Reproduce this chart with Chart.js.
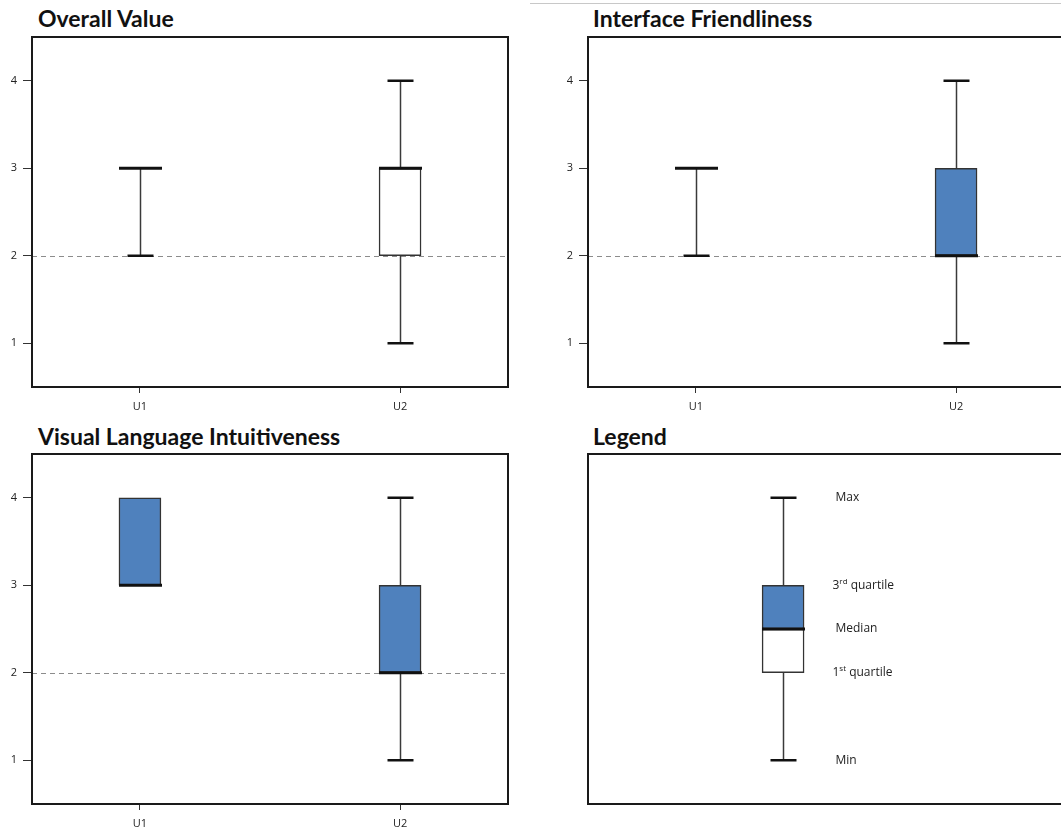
<!DOCTYPE html>
<html>
<head>
<meta charset="utf-8">
<script src="https://cdn.jsdelivr.net/npm/chart.js@4"></script>
<style>
  html, body { margin: 0; padding: 0; background: #fff; }
  body { position: relative; width: 1061px; height: 834px; overflow: hidden; }
  canvas { position: absolute; }
  .title {
    position: absolute; font-family: Lato, sans-serif; font-weight: 700;
    font-size: 23px; line-height: 23px; color: #111; white-space: nowrap;
  }
  .rule { position: absolute; left: 530px; top: 3px; width: 531px; height: 1px; background: #c8c8c8; }
</style>
</head>
<body>
<div class="rule"></div>

<div class="title" style="left:38px;top:7px">Overall Value</div>
<div class="title" style="left:593px;top:7px">Interface Friendliness</div>
<div class="title" style="left:38px;top:425px">Visual Language Intuitiveness</div>
<div class="title" style="left:593px;top:425px">Legend</div>

<canvas id="overallChart" width="556" height="417" style="left:0;top:0"></canvas>
<canvas id="interfaceChart" width="556" height="417" style="left:556px;top:0"></canvas>
<canvas id="visualChart" width="556" height="417" style="left:0;top:417px"></canvas>
<canvas id="legendChart" width="556" height="417" style="left:556px;top:417px"></canvas>

<script>
const categories = ['U1', 'U2'];
const yTicks = [1, 2, 3, 4];

// one row per user: [min, q1, median, q3, max]
const overallValue = [[2, 3, 3, 3, 3], [1, 2, 3, 3, 4]];
const interfaceFriendliness = [[2, 3, 3, 3, 3], [1, 2, 2, 3, 4]];
const visualLanguage = [[3, 3, 3, 4, 4], [1, 2, 2, 3, 4]];

// sample box for the key panel, same order as above
const legendSample = [1, 2, 2.5, 3, 4];
const legendLabels = ['Min', '1st quartile', 'Median', '3rd quartile', 'Max'];

const referenceLevel = 2;

const BLUE = '#4f81bd';
const INK = '#222';
const TICK_FONT = { family: 'Open Sans', size: 11 };

function boxExtras(stats, refLine, labels) {
    return {
        id: 'boxExtras',
        beforeDatasetsDraw(chart) {
            if (refLine == null) return;
            const { ctx, chartArea: a, scales: { y } } = chart;
            const py = Math.round(y.getPixelForValue(refLine)) + 0.5;
            ctx.save();
            ctx.strokeStyle = '#8c8c8c';
            ctx.lineWidth = 1;
            ctx.setLineDash([5, 4]);
            ctx.beginPath();
            ctx.moveTo(a.left, py);
            ctx.lineTo(a.right, py);
            ctx.stroke();
            ctx.restore();
        },
        afterDatasetsDraw(chart) {
            const { ctx, scales: { x, y } } = chart;
            stats.forEach(([min, q1, med, q3, max], i) => {
                const px = Math.round(x.getPixelForValue(i + 1)) + 0.5;
                const hLine = (v, w) => {
                    const py = y.getPixelForValue(v);
                    ctx.beginPath();
                    ctx.moveTo(px - w / 2, py);
                    ctx.lineTo(px + w / 2, py);
                    ctx.stroke();
                };
                const vLine = (a, b) => {
                    if (a === b) return;
                    ctx.beginPath();
                    ctx.moveTo(px, y.getPixelForValue(a));
                    ctx.lineTo(px, y.getPixelForValue(b));
                    ctx.stroke();
                };
                ctx.save();
                ctx.strokeStyle = '#3a3a3a';
                ctx.lineWidth = 1.5;
                vLine(min, q1);
                vLine(q3, max);
                ctx.strokeStyle = '#111';
                ctx.lineWidth = 2.5;
                if (min < q1) hLine(min, 26);
                if (max > q3) hLine(max, 26);
                ctx.lineWidth = 3;
                hLine(med, 43);
                ctx.restore();

                if (labels) {
                    ctx.save();
                    ctx.fillStyle = INK;
                    ctx.textBaseline = 'middle';
                    [min, q1, med, q3, max].forEach((v, k) => {
                        const py = y.getPixelForValue(v);
                        let tx = px + 49;
                        const m = labels[k].match(/^(\d)(st|nd|rd|th)(.*)$/);
                        ctx.font = '12px "Open Sans"';
                        if (!m) {
                            ctx.fillText(labels[k], tx + 3, py);
                            return;
                        }
                        ctx.fillText(m[1], tx, py);
                        tx += ctx.measureText(m[1]).width;
                        ctx.font = '8px "Open Sans"';
                        ctx.fillText(m[2], tx, py - 4);
                        tx += ctx.measureText(m[2]).width;
                        ctx.font = '12px "Open Sans"';
                        ctx.fillText(m[3], tx, py);
                    });
                    ctx.restore();
                }
            });
        },
        afterDraw(chart) {
            const { ctx, chartArea: a } = chart;
            ctx.save();
            ctx.strokeStyle = '#1a1a1a';
            ctx.lineWidth = 2;
            ctx.strokeRect(a.left, a.top, a.right - a.left, a.bottom - a.top);
            ctx.restore();
        }
    };
}

function renderBoxChart(canvasId, stats, { xMin = 0.585, xMax = 2.415, showAxes = true, refLine = referenceLevel, labels = null } = {}) {
    const canvas = document.getElementById(canvasId);
    if (!canvas) return;

    const lower = stats.map((s, i) => s[1] < s[2] ? { x: i + 1, y: [s[1], s[2]] } : null).filter(Boolean);
    const upper = stats.map((s, i) => s[2] < s[3] ? { x: i + 1, y: [s[2], s[3]] } : null).filter(Boolean);

    const barStyle = {
        barThickness: 42,
        grouped: false,
        borderColor: '#333',
        borderWidth: 1.5,
        borderSkipped: false
    };

    new Chart(canvas, {
        type: 'bar',
        data: {
            datasets: [
                { data: lower, backgroundColor: '#fff', ...barStyle },
                { data: upper, backgroundColor: BLUE, ...barStyle }
            ]
        },
        plugins: [boxExtras(stats, refLine, labels)],
        options: {
            responsive: false,
            animation: false,
            events: [],
            // axis boxes keep their fixed size (afterFit) even when hidden
            layout: { padding: { top: 37, right: 48, left: 0, bottom: 0 } },
            scales: {
                x: {
                    type: 'linear',
                    display: showAxes,
                    min: xMin,
                    max: xMax,
                    offset: false,
                    border: { display: false },
                    grid: { offset: false, drawOnChartArea: false, tickLength: 6, tickColor: '#333' },
                    afterBuildTicks: (s) => { s.ticks = categories.map((_, i) => ({ value: i + 1 })); },
                    afterFit: (s) => { s.height = 30; },
                    ticks: {
                        callback: (v) => categories[v - 1],
                        padding: 7,
                        color: INK,
                        font: TICK_FONT,
                        autoSkip: false,
                        maxRotation: 0
                    }
                },
                y: {
                    type: 'linear',
                    display: showAxes,
                    min: 0.5,
                    max: 4.5,
                    border: { display: false },
                    grid: { drawOnChartArea: false, tickLength: 9, tickColor: '#333' },
                    afterBuildTicks: (s) => { s.ticks = yTicks.map((v) => ({ value: v })); },
                    afterFit: (s) => { s.width = 32; },
                    ticks: { padding: 6, color: INK, font: TICK_FONT }
                }
            },
            plugins: {
                legend: { display: false },
                tooltip: { enabled: false },
                title: { display: false }
            }
        }
    });
}

renderBoxChart('overallChart', overallValue);
renderBoxChart('interfaceChart', interfaceFriendliness);
renderBoxChart('visualChart', visualLanguage);
renderBoxChart('legendChart', [legendSample], {
    xMin: 0.25,
    xMax: 2.08,
    showAxes: false,
    refLine: null,
    labels: legendLabels
});
</script>
</body>
</html>
